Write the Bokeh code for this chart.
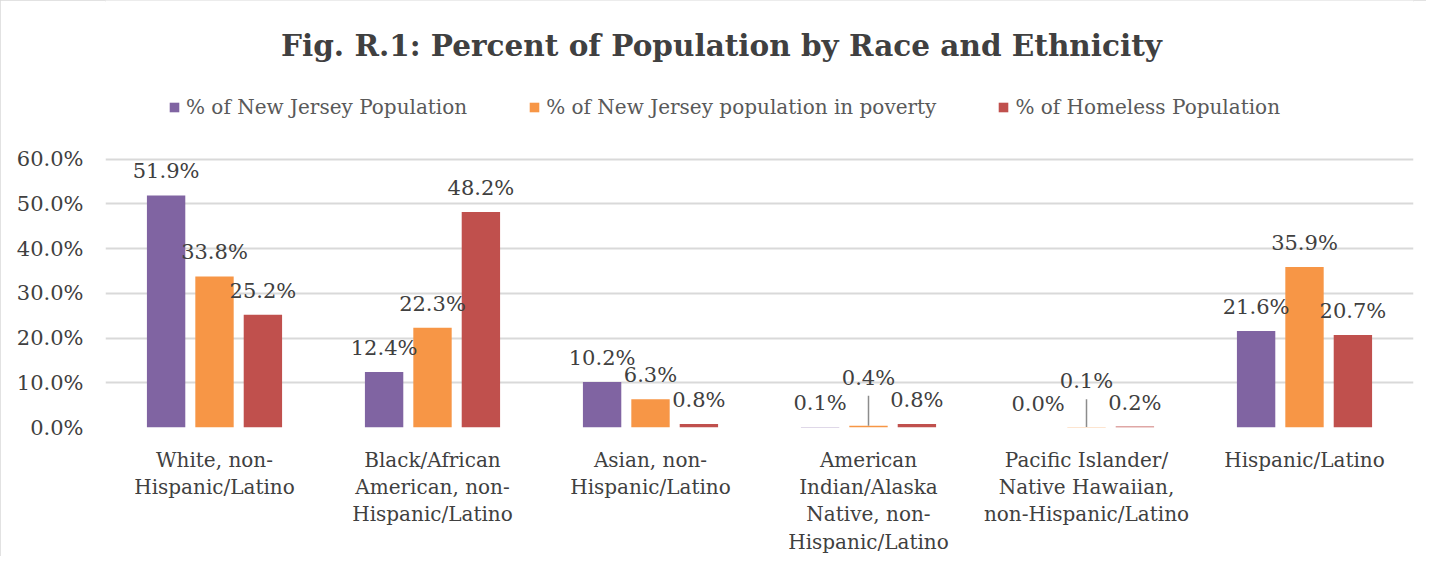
from bokeh.plotting import figure
from bokeh.models import ColumnDataSource, FixedTicker, Legend, LegendItem, Label, Range1d
from bokeh.embed import file_html
from bokeh.resources import INLINE

# ---------------- data ----------------
categories = [
    "White, non-\nHispanic/Latino",
    "Black/African\nAmerican, non-\nHispanic/Latino",
    "Asian, non-\nHispanic/Latino",
    "American\nIndian/Alaska\nNative, non-\nHispanic/Latino",
    "Pacific Islander/\nNative Hawaiian,\nnon-Hispanic/Latino",
    "Hispanic/Latino",
]
series_names = [
    "% of New Jersey Population",
    "% of New Jersey population in poverty",
    "% of Homeless Population",
]
nj_population = [51.9, 12.4, 10.2, 0.1, 0.0, 21.6]
nj_poverty = [33.8, 22.3, 6.3, 0.4, 0.1, 35.9]
homeless = [25.2, 48.2, 0.8, 0.8, 0.2, 20.7]
y_ticks = [0, 10, 20, 30, 40, 50, 60]
y_tick_labels = ["0.0%", "10.0%", "20.0%", "30.0%", "40.0%", "50.0%", "60.0%"]
title_text = "Fig. R.1: Percent of Population by Race and Ethnicity"

# ---------------- style / layout ----------------
COLORS = ["#8064A2", "#F79646", "#C0504D"]
TEXT = "#404040"
GRID = "#d9d9d9"
FONT = "DejaVu Serif"
W, H = 1426, 556
FRAME_LEFT = 105
FRAME_RIGHT_PAD = 13
FRAME_H = 429               # frame runs from the top edge down to the baseline
FRAME_BOTTOM_PAD = H - FRAME_H
GRID_TOP_PX = 269.5         # height of the 60% line above the baseline
Y_MAX = y_ticks[-1]
px_per_unit = GRID_TOP_PX / Y_MAX
y_end = FRAME_H / px_per_unit
n = len(categories)
frame_w = W - FRAME_LEFT - FRAME_RIGHT_PAD
px_per_cat = frame_w / n
BAR_W = 0.176
OFFSETS = [-0.222, 0.0, 0.222]
LABEL_UP = 24
LIFTS = {(3, 1): 48, (4, 1): 46}   # labels pushed up with a leader line
LEADER_GAP = 18
TITLE_CX, TITLE_CY = 721, 45
LEGEND_POS = (63, 308)

p = figure(
    width=W, height=H,
    x_range=Range1d(-0.5, n - 0.5), y_range=Range1d(0, y_end),
    output_backend="svg", toolbar_location=None,
    min_border_left=FRAME_LEFT, min_border_right=FRAME_RIGHT_PAD,
    min_border_top=0, min_border_bottom=FRAME_BOTTOM_PAD,
    background_fill_color="white", border_fill_color="white",
    outline_line_color=None,
)
p.styles = {"outline": "2px solid #d9d9d9", "outline-offset": "-2px"}

all_series = [nj_population, nj_poverty, homeless]
renderers = []
lx, ly, lt, loff = [], [], [], []
sx0, sy0, sy1 = [], [], []
for j, vals in enumerate(all_series):
    xs = [i + OFFSETS[j] for i in range(n)]
    src = ColumnDataSource(dict(x=xs, top=vals))
    r = p.vbar(x="x", top="top", width=BAR_W, source=src,
               fill_color=COLORS[j], line_color=None)
    renderers.append(r)
    for i, v in enumerate(vals):
        lift = LIFTS.get((i, j), LABEL_UP)
        lx.append(xs[i]); ly.append(v); lt.append(f"{v:.1f}%"); loff.append(-lift)
        if (i, j) in LIFTS:
            sx0.append(xs[i]); sy0.append(v)
            sy1.append(v + (lift - LEADER_GAP) / px_per_unit)

p.segment(x0=sx0, y0=sy0, x1=sx0, y1=sy1, line_color="#8c8c8c", line_width=1.5)

lsrc = ColumnDataSource(dict(x=lx, y=ly, text=lt, yoff=loff))
p.text(x="x", y="y", text="text", y_offset="yoff", source=lsrc,
       text_align="center", text_baseline="middle",
       text_font={"value": FONT}, text_font_size="21px", text_color=TEXT)

# title
p.add_layout(Label(
    x=-0.5 + (TITLE_CX - FRAME_LEFT) / px_per_cat,
    y=(FRAME_H - TITLE_CY) / px_per_unit,
    text=title_text, text_align="center", text_baseline="middle",
    text_font=FONT, text_font_style="bold",
    text_font_size="29.5px", text_color=TEXT,
))

legend = Legend(
    items=[LegendItem(label=series_names[j], renderers=[renderers[j]]) for j in range(3)],
    orientation="horizontal", location=LEGEND_POS,
    label_text_font=FONT, label_text_font_size="20px", label_text_color="#595959",
    glyph_width=12, glyph_height=12, label_standoff=6, spacing=61,
    padding=0, margin=0, border_line_color=None, background_fill_alpha=0,
    label_height=20,
)
p.add_layout(legend)

# axes
p.yaxis.ticker = FixedTicker(ticks=y_ticks)
p.yaxis.major_label_overrides = {t: s for t, s in zip(y_ticks, y_tick_labels)}
p.xaxis.ticker = FixedTicker(ticks=list(range(n)))
p.xaxis.major_label_overrides = {i: c for i, c in enumerate(categories)}
for ax in (p.xaxis, p.yaxis):
    ax.axis_line_color = None
    ax.major_tick_line_color = None
    ax.major_tick_out = 0
    ax.major_tick_in = 0
    ax.minor_tick_line_color = None
    ax.major_label_text_font = FONT
    ax.major_label_text_font_size = "21px"
    ax.major_label_text_color = TEXT
p.yaxis.major_label_standoff = 22
p.xaxis.major_label_standoff = 20
p.xaxis.major_label_text_font_size = "20px"
p.xaxis.major_label_text_line_height = 1.14
p.xgrid.grid_line_color = None
p.ygrid.ticker = FixedTicker(ticks=y_ticks)
p.ygrid.grid_line_color = GRID
p.ygrid.grid_line_width = 2

open("out.html", "w").write(file_html(p, INLINE))
